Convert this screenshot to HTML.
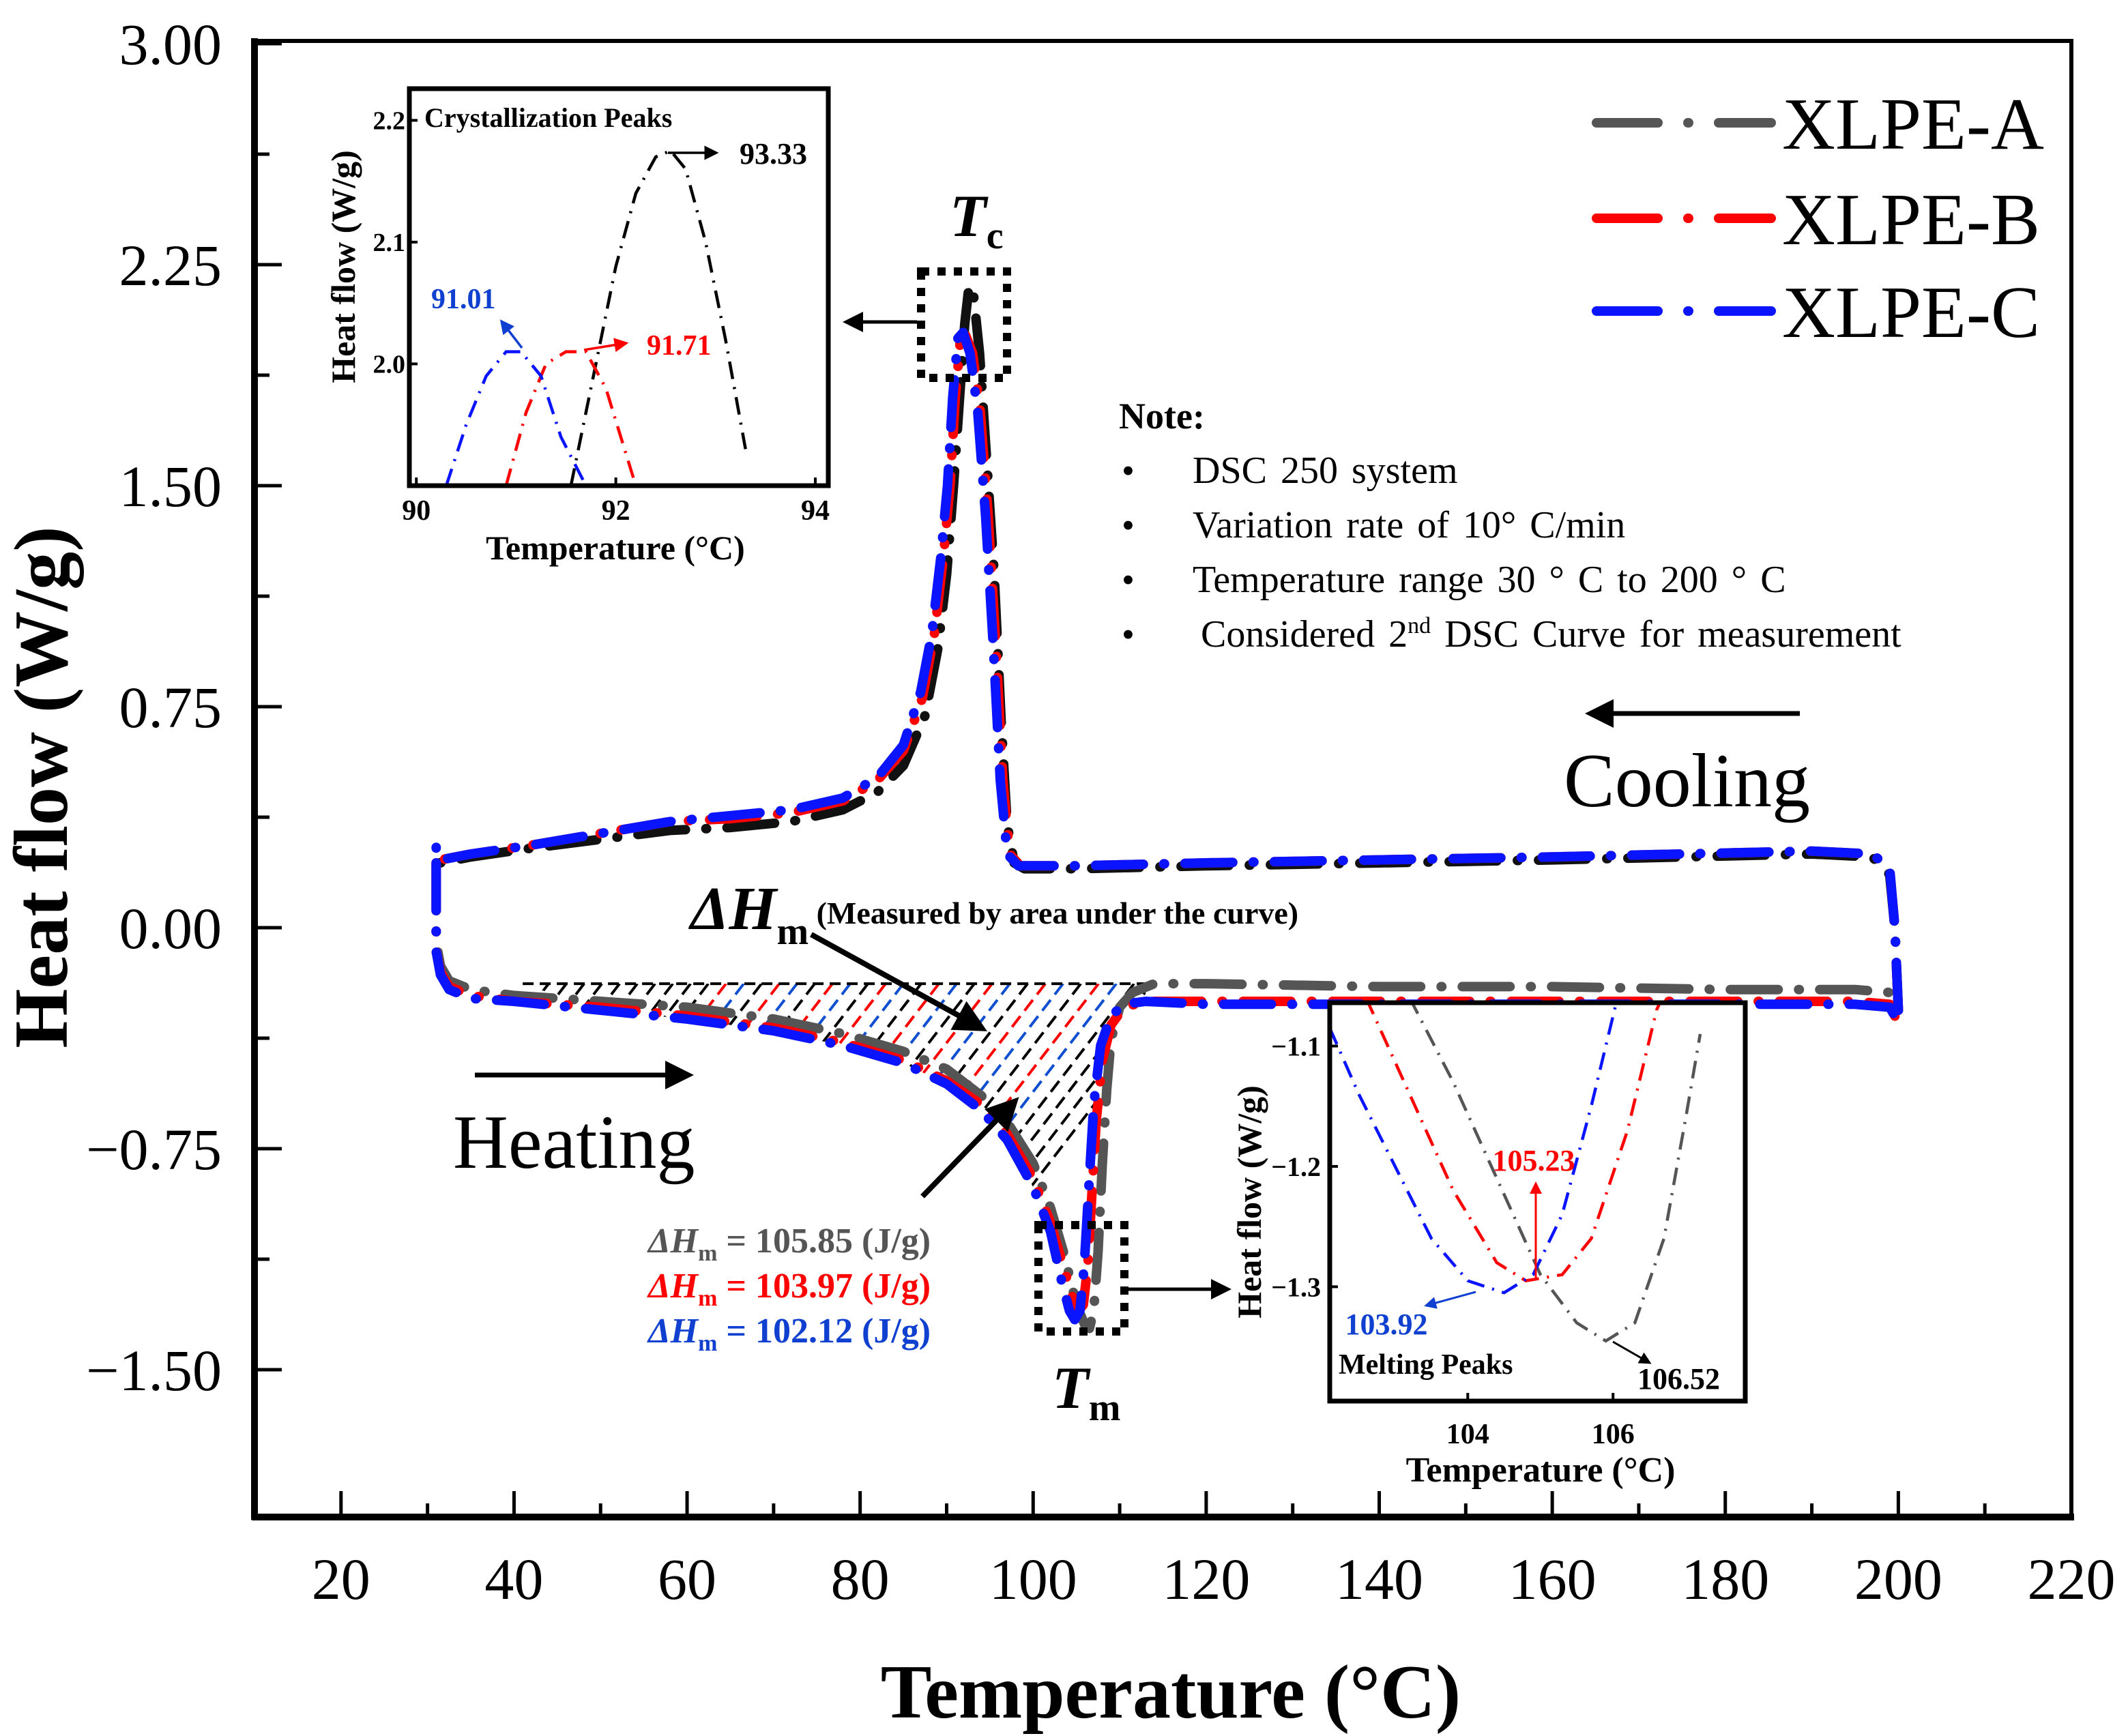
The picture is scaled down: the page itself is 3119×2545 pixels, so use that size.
<!DOCTYPE html>
<html><head><meta charset="utf-8"><style>
html,body{margin:0;padding:0;background:#fff}
svg{display:block;font-family:"Liberation Serif","Times New Roman",serif}
</style></head><body>
<svg id="chart" width="3119" height="2545" viewBox="0 0 3119 2545">
<defs>
<marker id="ah" markerWidth="6" markerHeight="6" refX="5" refY="3" orient="auto" markerUnits="strokeWidth"><path d="M0,0 L6,3 L0,6 z" fill="#000"/></marker>
<marker id="ahr" markerWidth="6" markerHeight="6" refX="5" refY="3" orient="auto" markerUnits="strokeWidth"><path d="M0,0 L6,3 L0,6 z" fill="#f00"/></marker>
<marker id="ahb" markerWidth="6" markerHeight="6" refX="5" refY="3" orient="auto" markerUnits="strokeWidth"><path d="M0,0 L6,3 L0,6 z" fill="#1040d0"/></marker>
<clipPath id="c1"><rect x="600" y="130" width="614" height="582"/></clipPath>
<clipPath id="c2"><rect x="1949" y="1470" width="609" height="584"/></clipPath>
<clipPath id="cm"><rect x="373" y="60" width="2663" height="2164"/></clipPath>
<clipPath id="ch"><path id="chpath" d=""/></clipPath>
</defs>
<g id="main"></g>
</svg>
<script>
// ---- main chart data ----
const xTicks = [20,40,60,80,100,120,140,160,180,200,220];
const yTicks = [3.00,2.25,1.50,0.75,0.00,-0.75,-1.50];
const yTickLabels = ["3.00","2.25","1.50","0.75","0.00","\u22120.75","\u22121.50"];
const seriesNames = ["XLPE-A","XLPE-B","XLPE-C"];

const aCoolT = [200,199.6,199,197,190,175,160,140,120,105,99,97.8,97,96.3,95.5,94.6,93.8,93.1,92.6,92.1,91.5,90.8,90,89,87.5,85,82,78,72,65,58,50,42,35,31.5,31,31];
const aCoolHF = [-0.28,0.0,0.18,0.24,0.25,0.24,0.23,0.22,0.21,0.2,0.2,0.22,0.35,0.7,1.2,1.6,1.95,2.15,2.18,2.05,1.8,1.5,1.2,0.95,0.72,0.55,0.46,0.4,0.36,0.34,0.33,0.3,0.27,0.24,0.22,0.24,0.28];
const aHeatT = [31,31,31.5,32.5,35,40,50,60,70,78,85,90,94,97,100,102,103.5,105,106,106.5,107,107.5,108,108.5,109,110,111.5,114,120,140,160,180,195,199,199.6];
const aHeatHF = [0.22,-0.05,-0.13,-0.18,-0.21,-0.23,-0.25,-0.27,-0.31,-0.36,-0.42,-0.48,-0.57,-0.66,-0.8,-0.95,-1.1,-1.28,-1.35,-1.36,-1.3,-1.1,-0.8,-0.55,-0.38,-0.27,-0.22,-0.19,-0.19,-0.2,-0.2,-0.21,-0.21,-0.22,-0.26];

const bCoolT = [200,199.6,199,197,190,175,160,140,120,105,98.5,97.3,96.5,95.7,94.8,93.9,93,92.2,91.6,91,90.4,89.6,88.6,87.2,85,82,78,72,65,58,50,42,35,31.5,31,31];
const bCoolHF = [-0.28,0.0,0.2,0.25,0.26,0.25,0.24,0.23,0.22,0.21,0.21,0.25,0.5,0.95,1.4,1.75,1.95,2.01,2.0,1.8,1.5,1.25,1.0,0.78,0.6,0.5,0.43,0.39,0.37,0.36,0.32,0.28,0.25,0.23,0.25,0.28];
const bHeatT = [31,31,31.5,32.5,35,40,50,60,70,78,85,90,94,97,100,102,103.5,104.5,105.2,105.8,106.3,106.8,107.3,108,109,110.5,113,120,140,160,180,195,199,199.6];
const bHeatHF = [0.22,-0.08,-0.15,-0.2,-0.23,-0.25,-0.27,-0.3,-0.34,-0.39,-0.45,-0.52,-0.6,-0.7,-0.85,-1.0,-1.15,-1.25,-1.3,-1.28,-1.15,-0.9,-0.65,-0.45,-0.33,-0.27,-0.25,-0.25,-0.25,-0.25,-0.25,-0.25,-0.26,-0.3];

const cCoolT = [200,199.6,199,197,190,175,160,140,120,105,98.3,97,96.2,95.4,94.5,93.6,92.7,91.9,91.3,90.7,90.1,89.3,88.3,87,85,82,78,72,65,58,50,42,35,31.5,31,31];
const cCoolHF = [-0.28,0.0,0.2,0.25,0.26,0.25,0.24,0.23,0.22,0.21,0.21,0.25,0.5,0.95,1.4,1.75,1.95,2.02,2.0,1.8,1.5,1.25,1.0,0.8,0.62,0.51,0.44,0.4,0.38,0.36,0.32,0.28,0.25,0.23,0.25,0.28];
const cHeatT = [31,31,31.5,32.5,35,40,50,60,70,78,85,90,94,97,100,102,103.3,104.2,104.8,105.4,105.9,106.4,107,107.8,109,110.5,113,120,140,160,180,195,199,199.6];
const cHeatHF = [0.22,-0.08,-0.16,-0.21,-0.24,-0.25,-0.28,-0.31,-0.35,-0.4,-0.46,-0.53,-0.62,-0.72,-0.88,-1.03,-1.2,-1.3,-1.33,-1.3,-1.15,-0.9,-0.6,-0.4,-0.3,-0.26,-0.25,-0.26,-0.26,-0.26,-0.26,-0.26,-0.27,-0.3];

// ---- inset 1 (crystallization) data ----
const in1XTicks = [90,92,94];
const in1YTicks = [2.0,2.1,2.2];
const in1AT = [91.55,91.8,92.0,92.2,92.4,92.55,92.7,92.9,93.1,93.3];
const in1AHF = [1.90,2.0,2.08,2.14,2.17,2.175,2.16,2.10,2.02,1.93];
const in1BT = [90.9,91.1,91.3,91.5,91.7,91.9,92.05,92.2];
const in1BHF = [1.90,1.96,2.0,2.01,2.01,1.98,1.94,1.90];
const in1CT = [90.3,90.5,90.7,90.9,91.05,91.25,91.45,91.7];
const in1CHF = [1.90,1.95,1.99,2.01,2.01,1.99,1.94,1.90];

// ---- inset 2 (melting) data ----
const in2XTicks = [104,106];
const in2YTicks = [-1.1,-1.2,-1.3];
const in2AT = [103.2,103.8,104.4,105,105.5,105.9,106.3,106.7,107.0,107.2];
const in2AHF = [-1.06,-1.13,-1.21,-1.29,-1.33,-1.345,-1.33,-1.26,-1.16,-1.09];
const in2BT = [102.6,103.2,103.8,104.4,104.8,105.3,105.7,106.2,106.6,106.75];
const in2BHF = [-1.06,-1.14,-1.22,-1.28,-1.295,-1.29,-1.26,-1.17,-1.07,-1.05];
const in2CT = [102.1,102.5,103,103.5,104,104.5,104.9,105.3,105.7,106.1];
const in2CHF = [-1.085,-1.14,-1.2,-1.26,-1.295,-1.305,-1.29,-1.24,-1.15,-1.05];

const NS = "http://www.w3.org/2000/svg";
const root = document.getElementById('main');
function el(tag, attrs, parent, text){
  const e = document.createElementNS(NS, tag);
  for (const k in attrs) e.setAttribute(k, attrs[k]);
  if (text !== undefined) e.textContent = text;
  (parent||root).appendChild(e);
  return e;
}
const X = t => 373 + (t - 10) * (2663 / 210);
const Y = v => 1360 - v * 432;
const I1X = t => 600 + (t - 89.93) * (614 / 4.2);
const I1Y = v => 712 - (v - 1.90) * (582 / 0.326);
const I2X = t => 1949 + (t - 102.1) * (609 / 5.72);
const I2Y = v => 2054 - (v + 1.395) * (584 / 0.331);

function pathD(ts, vs, fx, fy){
  return ts.map((t,i)=>(i?'L':'M')+fx(t).toFixed(1)+','+fy(vs[i]).toFixed(1)).join(' ');
}
const COLS = {A:'#555555', Ac:'#111111', B:'#ff0000', C:'#0a14ff'};

// hatch region: between baseline and heating curve (clip)
const yb = Y(-0.19);
let clipD = 'M'+X(41)+','+yb;
for (let i=0;i<cHeatT.length;i++){ if (cHeatT[i]>=41 && cHeatT[i]<=113) clipD += ' L'+X(cHeatT[i]).toFixed(1)+','+Y(cHeatHF[i]).toFixed(1); }
clipD += ' L'+X(113)+','+yb+' Z';
document.getElementById('chpath').setAttribute('d', clipD);
const hatchG = el('g',{});


const hatchLines = el('g',{'clip-path':'url(#ch)'},hatchG);
let k=0;
for (let px = X(44); px < X(118); px += 26, k++){
  const T = 10 + (px-373)/(2663/210);
  let col = '#000';
  if (T>62 && T<112){ col = ['#000','#ff0000','#1050d0'][k%3]; }
  const hl = el('line',{x1:px,y1:yb,x2:px-420,y2:yb+546,stroke:col,'stroke-width':4,'stroke-dasharray':'20 10'},hatchLines);
  
  
}
let hb = el('line',{x1:X(41),y1:yb,x2:X(113.5),y2:yb,stroke:'#000','stroke-width':4,'stroke-dasharray':'16 9'},hatchG);



// main series
const seriesG = el('g',{'clip-path':'url(#cm)'});


const mainSeries = [
  ['xlpe-a-cooling',aCoolT,aCoolHF,COLS.Ac],['xlpe-a-heating',aHeatT,aHeatHF,COLS.A],
  ['xlpe-b-cooling',bCoolT,bCoolHF,COLS.B],['xlpe-b-heating',bHeatT,bHeatHF,COLS.B],
  ['xlpe-c-cooling',cCoolT,cCoolHF,COLS.C],['xlpe-c-heating',cHeatT,cHeatHF,COLS.C]];
for (const s of mainSeries){
  const p = el('path',{d:pathD(s[1],s[2],X,Y),fill:'none',stroke:s[3],'stroke-width':14,'stroke-linecap':'round','stroke-linejoin':'round','stroke-dasharray':'70 30 1 30'},seriesG);
  
  
}

// frame
const fr = el('rect',{x:373,y:60,width:2663,height:2164,fill:'none',stroke:'#000','stroke-width':6});


const xa = el('line',{x1:369,y1:2224,x2:3040,y2:2224,stroke:'#000','stroke-width':10});


const ya = el('line',{x1:373,y1:56,x2:373,y2:2228,stroke:'#000','stroke-width':10});



for (let t=10; t<=220; t+=10){
  const major = xTicks.includes(t);
  const tk = el('line',{x1:X(t),y1:2224,x2:X(t),y2:2224-(major?38:20),stroke:'#000','stroke-width':5});
  
  
}
xTicks.forEach(t=>{
  const tl = el('text',{x:X(t),y:2344,'font-size':86,'text-anchor':'middle'},root,String(t));
  
  
});
for (let i=0;i<=12;i++){
  const v = 3 - i*0.375;
  const major = i%2===0;
  const tk = el('line',{x1:373,y1:Y(v),x2:373+(major?40:22),y2:Y(v),stroke:'#000','stroke-width':5});
  
  
}
yTicks.forEach((v,i)=>{
  const tl = el('text',{x:325,y:Y(v)+30,'font-size':86,'text-anchor':'end'},root,yTickLabels[i]);
  
  
});
const xt = el('text',{x:1716,y:2518,'font-size':112,'font-weight':'bold','text-anchor':'middle'},root,'Temperature (\u00B0C)');


const yt = el('text',{x:0,y:0,'font-size':112,'font-weight':'bold','text-anchor':'middle',transform:'translate(98,1154) rotate(-90)'},root,'Heat flow (W/g)');



// legend
const legY = [180,320,456];
const legC = [COLS.A,COLS.B,COLS.C];
seriesNames.forEach((n,i)=>{
  const g = el('g',{});
  
  
  el('line',{x1:2340,y1:legY[i],x2:2596,y2:legY[i],stroke:legC[i],'stroke-width':14,'stroke-linecap':'round','stroke-dasharray':'90 44 1 44'},g);
  el('text',{x:2612,y:legY[i]+38,'font-size':108},g,n);
});

// note
const note = el('g',{});


el('text',{x:1640,y:628,'font-size':54,'font-weight':'bold'},note,'Note:');
const noteLines = ['DSC 250 system','Variation rate of 10\u00B0  C/min','Temperature range 30 \u00B0  C to 200 \u00B0  C'];
noteLines.forEach((s,i)=>{
  el('text',{x:1644,y:708+i*80,'font-size':54},note,'\u2022');
  const t = el('text',{x:1748,y:708+i*80,'font-size':56,'word-spacing':'6'},note,s);
  t.setAttribute('xml:space','preserve');
});
el('text',{x:1644,y:948,'font-size':54},note,'\u2022');
const nl = el('text',{x:1760,y:948,'font-size':56,'word-spacing':'6'},note);
nl.innerHTML = 'Considered 2<tspan font-size="34" dy="-20">nd</tspan><tspan dy="20"> DSC Curve for measurement</tspan>';

function arrow(x1,y1,x2,y2,w,name,mk,col){
  const a = el('line',{x1,y1,x2,y2,stroke:col||'#000','stroke-width':w,'marker-end':'url(#'+(mk||'ah')+')'});
  
  
  return a;
}
arrow(2638,1046,2330,1046,7,'cooling-arrow');
const ct = el('text',{x:2292,y:1182,'font-size':112},root,'Cooling');


arrow(696,1576,1010,1576,7,'heating-arrow');
const ht = el('text',{x:664,y:1712,'font-size':112},root,'Heating');



const tc = el('text',{x:1392,y:346,'font-size':88,'font-weight':'bold','font-style':'italic'});
tc.innerHTML = 'T<tspan font-size="56" font-style="normal" dy="18">c</tspan>';


const tm = el('text',{x:1542,y:2064,'font-size':88,'font-weight':'bold','font-style':'italic'});
tm.innerHTML = 'T<tspan font-size="56" font-style="normal" dy="18">m</tspan>';


const b1 = el('rect',{x:1350,y:398,width:126,height:156,fill:'none',stroke:'#000','stroke-width':12,'stroke-dasharray':'12 12'});


const b2 = el('rect',{x:1522,y:1796,width:126,height:156,fill:'none',stroke:'#000','stroke-width':12,'stroke-dasharray':'12 12'});


arrow(1344,472,1240,472,5,'tc-inset-arrow');
arrow(1654,1890,1800,1890,5,'tm-inset-arrow');

const dh = el('text',{x:1012,y:1362,'font-size':90,'font-weight':'bold','font-style':'italic'});
dh.innerHTML = '\u0394H<tspan font-size="56" font-style="normal" dy="22">m</tspan><tspan font-size="46" font-style="normal" dy="-30"> (Measured by area under the curve)</tspan>';


arrow(1189,1370,1440,1508,8,'delta-h-arrow');
arrow(1352,1754,1488,1614,8,'delta-h-arrow-2');
const dhVals = ['105.85','103.97','102.12'];
const dhCols = ['#555555','#ff0000','#1040d0'];
dhVals.forEach((v,i)=>{
  const t = el('text',{x:950,y:1836+i*66,'font-size':52,'font-weight':'bold',fill:dhCols[i]});
  t.innerHTML = '<tspan font-style="italic">\u0394H</tspan><tspan font-size="34" dy="12">m</tspan><tspan dy="-12"> = '+v+' (J/g)</tspan>';
  
  
});

// ---- inset 1 ----
const g1 = el('g',{});


el('rect',{x:600,y:130,width:614,height:582,fill:'#fff',stroke:'none'},g1);
const g1c = el('g',{'clip-path':'url(#c1)'},g1);
[[in1AT,in1AHF,'#000','inset1-xlpe-a'],[in1BT,in1BHF,'#ff0000','inset1-xlpe-b'],[in1CT,in1CHF,'#0a14ff','inset1-xlpe-c']].forEach(s=>{
  const p = el('path',{d:pathD(s[0],s[1],I1X,I1Y),fill:'none',stroke:s[2],'stroke-width':4.5,'stroke-dasharray':'26 12 3 12'},g1c);
  
  
});
el('rect',{x:600,y:130,width:614,height:582,fill:'none',stroke:'#000','stroke-width':7},g1);
in1XTicks.forEach(t=>{
  el('line',{x1:I1X(t),y1:712,x2:I1X(t),y2:700,stroke:'#000','stroke-width':4},g1);
  el('text',{x:I1X(t),y:762,'font-size':42,'font-weight':'bold','text-anchor':'middle'},g1,String(t));
});
in1YTicks.forEach(v=>{
  el('line',{x1:600,y1:I1Y(v),x2:612,y2:I1Y(v),stroke:'#000','stroke-width':4},g1);
  el('text',{x:594,y:I1Y(v)+13,'font-size':38,'font-weight':'bold','text-anchor':'end'},g1,v.toFixed(1));
});
el('text',{x:902,y:820,'font-size':50,'font-weight':'bold','text-anchor':'middle'},g1,'Temperature (\u00B0C)');
el('text',{x:0,y:0,'font-size':50,'font-weight':'bold','text-anchor':'middle',transform:'translate(520,391) rotate(-90)'},g1,'Heat flow (W/g)');
el('text',{x:622,y:186,'font-size':40,'font-weight':'bold'},g1,'Crystallization Peaks');
el('text',{x:1084,y:240,'font-size':44,'font-weight':'bold'},g1,'93.33');
el('text',{x:632,y:452,'font-size':42,'font-weight':'bold',fill:'#1040d0'},g1,'91.01');
el('text',{x:948,y:520,'font-size':42,'font-weight':'bold',fill:'#ff0000'},g1,'91.71');
arrow(979,224,1050,224,3.5,'inset1-arrow-a');
arrow(765,510,735,471,3.5,'inset1-arrow-c','ahb','#1040d0');
arrow(856,513,918,503,3.5,'inset1-arrow-b','ahr','#ff0000');

// ---- inset 2 ----
const g2 = el('g',{});


el('rect',{x:1949,y:1470,width:609,height:584,fill:'#fff',stroke:'none'},g2);
const g2c = el('g',{'clip-path':'url(#c2)'},g2);
[[in2AT,in2AHF,'#555555','inset2-xlpe-a'],[in2BT,in2BHF,'#ff0000','inset2-xlpe-b'],[in2CT,in2CHF,'#0a14ff','inset2-xlpe-c']].forEach(s=>{
  const p = el('path',{d:pathD(s[0],s[1],I2X,I2Y),fill:'none',stroke:s[2],'stroke-width':4.5,'stroke-dasharray':'26 12 3 12'},g2c);
  
  
});
el('rect',{x:1949,y:1470,width:609,height:584,fill:'none',stroke:'#000','stroke-width':7},g2);
in2XTicks.forEach(t=>{
  el('line',{x1:I2X(t),y1:2054,x2:I2X(t),y2:2042,stroke:'#000','stroke-width':4},g2);
  el('text',{x:I2X(t),y:2116,'font-size':42,'font-weight':'bold','text-anchor':'middle'},g2,String(t));
});
in2YTicks.forEach(v=>{
  el('line',{x1:1949,y1:I2Y(v),x2:1961,y2:I2Y(v),stroke:'#000','stroke-width':4},g2);
  el('text',{x:1936,y:I2Y(v)+14,'font-size':40,'font-weight':'bold','text-anchor':'end'},g2,v.toFixed(1).replace('-','\u2212'));
});
el('text',{x:2258,y:2172,'font-size':52,'font-weight':'bold','text-anchor':'middle'},g2,'Temperature (\u00B0C)');
el('text',{x:0,y:0,'font-size':50,'font-weight':'bold','text-anchor':'middle',transform:'translate(1848,1762) rotate(-90)'},g2,'Heat flow (W/g)');
el('text',{x:2248,y:1716,'font-size':44,'font-weight':'bold','text-anchor':'middle',fill:'#ff0000'},g2,'105.23');
el('text',{x:2032,y:1956,'font-size':44,'font-weight':'bold','text-anchor':'middle',fill:'#1040d0'},g2,'103.92');
el('text',{x:1962,y:2014,'font-size':42,'font-weight':'bold'},g2,'Melting Peaks');
el('text',{x:2400,y:2036,'font-size':44,'font-weight':'bold'},g2,'106.52');
arrow(2251,1873,2251,1735,3,'inset2-arrow-b','ahr','#ff0000');
arrow(2163,1894,2090,1914,3,'inset2-arrow-c','ahb','#1040d0');
arrow(2364,1967,2418,1998,3,'inset2-arrow-a');
</script>
</body></html>
